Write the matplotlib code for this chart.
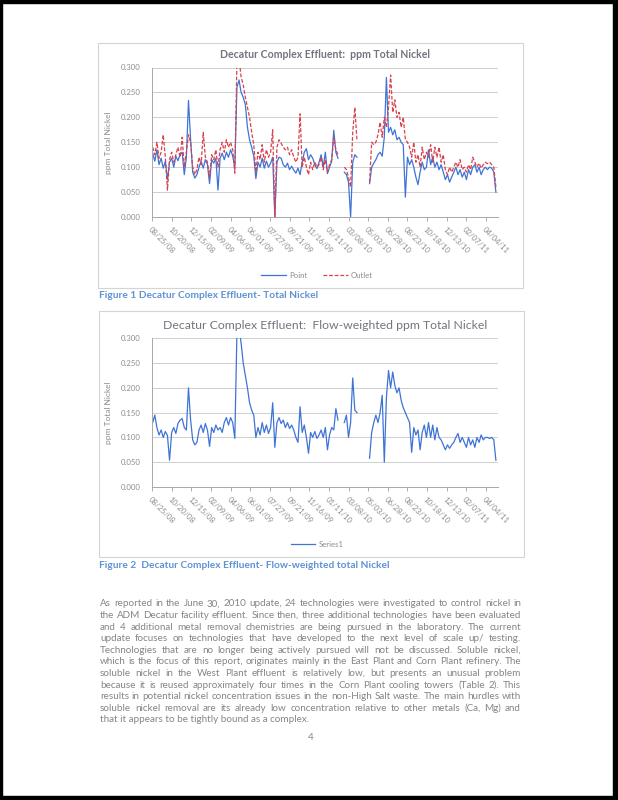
import matplotlib

matplotlib.use("Agg")
import matplotlib.dates as mdates
import matplotlib.pyplot as plt
import numpy as np
import pandas as pd
from matplotlib.patches import Rectangle

plt.rcParams["font.family"] = ["Lato", "DejaVu Sans"]

nan = np.nan

# samples every 6 days (ppm Ni)
START = "2008-08-27"
STEP = "6D"

point_ni = [
    0.128, 0.112, 0.135, 0.105, 0.118, 0.098, 0.112, 0.075, 0.11, 0.118,
    0.1, 0.122, 0.113, 0.125, 0.13, 0.085, 0.12, 0.234, 0.155, 0.09,
    0.078, 0.085, 0.1, 0.112, 0.098, 0.115, 0.105, 0.067, 0.115, 0.108,
    0.118, 0.054, 0.118, 0.128, 0.115, 0.13, 0.12, 0.135, 0.122, 0.1,
    0.26, 0.275, 0.25, 0.24, 0.225, 0.18, 0.155, 0.14, 0.122, 0.077,
    0.11, 0.1, 0.118, 0.098, 0.112, 0.1, 0.108, 0.12, 0.0, 0.11,
    0.12, 0.118, 0.105, 0.1, 0.108, 0.095, 0.102, 0.094, 0.088, 0.098,
    0.085, 0.11, 0.13, 0.137, 0.115, 0.125, 0.118, 0.105, 0.097, 0.11,
    0.125, 0.1, 0.13, 0.087, 0.1, 0.112, 0.174, 0.13, 0.118, nan,
    nan, 0.09, 0.085, 0.07, 0.0, 0.11, 0.125, 0.12, nan, nan,
    nan, nan, nan, 0.067, 0.1, 0.108, 0.115, 0.125, 0.13, 0.122,
    0.16, 0.28, 0.17, 0.18, 0.165, 0.175, 0.155, 0.16, 0.15, 0.145,
    0.04, 0.12, 0.105, 0.115, 0.1, 0.08, 0.065, 0.09, 0.11, 0.095,
    0.1, 0.135, 0.105, 0.12, 0.1, 0.11, 0.095, 0.105, 0.09, 0.075,
    0.085, 0.07, 0.08, 0.09, 0.1, 0.085, 0.095, 0.08, 0.09, 0.075,
    0.095, 0.085, 0.1, 0.105, 0.09, 0.1, 0.085, 0.095, 0.1, 0.095,
    0.1, 0.098, 0.09, 0.05,
]

outlet_ni = [
    0.14, 0.125, 0.15, 0.118, 0.13, 0.165, 0.12, 0.054, 0.115, 0.13,
    0.11, 0.125, 0.14, 0.12, 0.16, 0.1, 0.13, 0.165, 0.15, 0.1,
    0.085, 0.095, 0.12, 0.105, 0.17, 0.12, 0.11, 0.08, 0.125, 0.115,
    0.135, 0.1, 0.135, 0.15, 0.13, 0.155, 0.14, 0.15, 0.135, 0.088,
    0.31, 0.32, 0.28, 0.265, 0.24, 0.22, 0.2, 0.17, 0.145, 0.09,
    0.13, 0.115, 0.145, 0.11, 0.135, 0.12, 0.13, 0.175, 0.0, 0.14,
    0.155, 0.148, 0.14, 0.135, 0.14, 0.125, 0.135, 0.12, 0.11, 0.12,
    0.207, 0.1, 0.12, 0.1, 0.085, 0.11, 0.095, 0.11, 0.1, 0.105,
    0.12, 0.095, 0.115, 0.09, 0.105, 0.115, 0.16, 0.135, 0.125, nan,
    nan, 0.1, 0.095, 0.08, 0.06, 0.17, 0.22, 0.155, nan, nan,
    nan, nan, nan, 0.07, 0.15, 0.145, 0.15, 0.165, 0.19, 0.16,
    0.2, 0.18, 0.22, 0.285, 0.21, 0.235, 0.2, 0.21, 0.18, 0.2,
    0.155, 0.15, 0.14, 0.12, 0.15, 0.11, 0.125, 0.1, 0.14, 0.115,
    0.13, 0.12, 0.145, 0.11, 0.14, 0.12, 0.14, 0.11, 0.125, 0.095,
    0.085, 0.1, 0.09, 0.1, 0.11, 0.1, 0.115, 0.095, 0.1, 0.09,
    0.105, 0.095, 0.12, 0.11, 0.1, 0.108, 0.098, 0.105, 0.11, 0.107,
    0.11, 0.105, 0.1, 0.06,
]

flow_ni = [
    0.13, 0.145, 0.12, 0.105, 0.115, 0.1, 0.112, 0.104, 0.054, 0.11,
    0.12, 0.108, 0.128, 0.135, 0.138, 0.12, 0.115, 0.2, 0.135, 0.095,
    0.085, 0.09, 0.115, 0.125, 0.11, 0.128, 0.115, 0.082, 0.12, 0.11,
    0.125, 0.115, 0.12, 0.11, 0.13, 0.14, 0.125, 0.14, 0.13, 0.098,
    0.31, 0.32, 0.29, 0.25, 0.225, 0.2, 0.17, 0.155, 0.145, 0.1,
    0.12, 0.105, 0.13, 0.11, 0.125, 0.108, 0.12, 0.17, 0.08, 0.13,
    0.14, 0.128, 0.135, 0.12, 0.13, 0.118, 0.125, 0.115, 0.1, 0.09,
    0.162, 0.11, 0.125, 0.1, 0.068, 0.11, 0.1, 0.112, 0.098, 0.105,
    0.115, 0.1, 0.12, 0.075, 0.105, 0.12, 0.115, 0.158, 0.135, nan,
    nan, 0.13, 0.145, 0.1, 0.13, 0.22, 0.155, 0.15, nan, nan,
    nan, nan, nan, 0.058, 0.11, 0.13, 0.145, 0.13, 0.15, 0.185,
    0.05, 0.18, 0.235, 0.2, 0.232, 0.205, 0.19, 0.2, 0.175, 0.16,
    0.15, 0.14, 0.13, 0.07, 0.12, 0.105, 0.115, 0.075, 0.11, 0.125,
    0.1, 0.13, 0.1, 0.125, 0.095, 0.12, 0.1, 0.095, 0.085, 0.075,
    0.085, 0.078, 0.085, 0.09, 0.1, 0.108, 0.09, 0.1, 0.09, 0.08,
    0.1, 0.085, 0.095, 0.08, 0.1, 0.09, 0.105, 0.095, 0.1, 0.1,
    0.098, 0.1, 0.095, 0.054,
]

TICK_START, TICK_END, TICK_STEP = "2008-08-25", "2011-04-04", "56D"
X_MIN, X_MAX = "2008-08-25", "2011-05-08"
Y_TICKS = [0.0, 0.05, 0.10, 0.15, 0.20, 0.25, 0.30]

TITLE1 = "Decatur Complex Effluent:  ppm Total Nickel"
TITLE2 = "Decatur Complex Effluent:  Flow-weighted ppm Total Nickel"
YLABEL = "ppm Total Nickel"
LEGEND1 = ["Point", "Outlet"]
LEGEND2 = ["Series1"]
CAPTION1 = "Figure 1 Decatur Complex Effluent- Total Nickel"
CAPTION2 = "Figure 2  Decatur Complex Effluent- Flow-weighted total Nickel"

PARAGRAPH = [
    "As reported in the June 30, 2010 update, 24 technologies were investigated to control nickel in",
    "the ADM Decatur facility effluent. Since then, three additional technologies have been evaluated",
    "and 4 additional metal removal chemistries are being pursued in the laboratory.  The current",
    "update focuses on technologies that have developed to the next level of scale up/ testing.",
    "Technologies that are no longer being actively pursued will not be discussed. Soluble nickel,",
    "which is the focus of this report, originates mainly in the East Plant and Corn Plant refinery. The",
    "soluble nickel in the West Plant effluent is relatively low, but presents an unusual problem",
    "because it is reused approximately four times in the Corn Plant cooling towers (Table 2). This",
    "results in potential nickel concentration issues in the non-High Salt waste. The main hurdles with",
    "soluble nickel removal are its already low concentration relative to other metals (Ca, Mg) and",
    "that it appears to be tightly bound as a complex.",
]
PAGE_NO = "4"

BLUE = "#3f74d6"
RED = "#d8404c"
GRAY_TXT = "#8c8c8c"
GRID = "#cfcfcf"
W, H = 618, 800


def fx(px):
    return px / W


def fy(py):
    return 1 - py / H


def style_axis(ax, title, title_size, title_weight):
    ax.set_xlim(pd.Timestamp(X_MIN), pd.Timestamp(X_MAX))
    ax.set_ylim(0, 0.3)
    ax.set_yticks(Y_TICKS)
    ax.yaxis.set_major_formatter(plt.FuncFormatter(lambda v, _: f"{v:.3f}"))
    ticks = pd.date_range(TICK_START, TICK_END, freq=TICK_STEP)
    ax.set_xticks(ticks)
    ax.xaxis.set_major_formatter(mdates.DateFormatter("%m/%d/%y"))
    for lab in ax.get_xticklabels():
        lab.set_rotation(-45)
        lab.set_ha("left")
        lab.set_va("top")
        lab.set_rotation_mode("anchor")
    ax.tick_params(axis="both", labelsize=5.6, colors="#a0a0a0", labelcolor=GRAY_TXT,
                   length=3, width=0.6)
    ax.tick_params(axis="y", length=0, pad=8)
    ax.grid(axis="y", color=GRID, lw=0.7)
    ax.set_axisbelow(True)
    for s in ("top", "right"):
        ax.spines[s].set_visible(False)
    for s in ("left", "bottom"):
        ax.spines[s].set_color("#a8a8a8")
        ax.spines[s].set_linewidth(0.7)
    ax.set_ylabel(YLABEL, fontsize=6, color=GRAY_TXT)
    ax.yaxis.set_label_coords(-0.115, 0.5)
    ax.set_title(title, fontsize=title_size, fontweight=title_weight,
                 color="#74747f", pad=7)


def justified(fig, lines, x0, x1, y0, dy, **kw):
    r = fig.canvas.get_renderer()
    for k, line in enumerate(lines):
        y = y0 - k * dy
        words = line.split()
        if k == len(lines) - 1:
            fig.text(x0, y, line, **kw)
            continue
        texts = [fig.text(0, y, w, **kw) for w in words]
        widths = [t.get_window_extent(r).width / fig.bbox.width for t in texts]
        gap = (x1 - x0 - sum(widths)) / (len(words) - 1)
        x = x0
        for t, w in zip(texts, widths):
            t.set_x(x)
            x += w + gap


def main():
    dates = pd.date_range(START, periods=len(point_ni), freq=STEP)
    fig = plt.figure(figsize=(W / 100, H / 100), dpi=100)

    # page frame (scan border)
    for x, y, w, h in [(0, 0, 2, 800), (0, 0, 618, 3), (613, 0, 5, 800), (0, 796, 618, 4)]:
        fig.patches.append(Rectangle((fx(x), fy(y + h)), fx(w), h / H,
                                     transform=fig.transFigure, color="black", zorder=0))
    # chart boxes
    for x0, y0, x1, y1 in [(98, 43, 523, 288), (99, 311, 524, 557)]:
        fig.patches.append(Rectangle((fx(x0), fy(y1)), fx(x1 - x0), (y1 - y0) / H,
                                     transform=fig.transFigure, fill=False,
                                     ec="#d4d4d4", lw=0.8))

    ax1 = fig.add_axes([fx(152), fy(217), fx(346), 149.5 / H])
    ax1.plot(dates, point_ni, color=BLUE, lw=0.9, label=LEGEND1[0])
    ax1.plot(dates, outlet_ni, color=RED, lw=0.9, ls=(0, (3, 1.5)), label=LEGEND1[1])
    style_axis(ax1, TITLE1, 7.6, "bold")
    ax1.legend(loc="center", bbox_to_anchor=(0.477, -0.39), ncol=2, frameon=False,
               fontsize=5.6, labelcolor=GRAY_TXT, handlelength=3.2, columnspacing=2.0,
               handletextpad=0.4)

    ax2 = fig.add_axes([fx(152), fy(487), fx(346), 148.7 / H])
    ax2.plot(dates, flow_ni, color=BLUE, lw=0.9, label=LEGEND2[0])
    style_axis(ax2, TITLE2, 8.8, "normal")
    ax2.legend(loc="center", bbox_to_anchor=(0.477, -0.385), frameon=False,
               fontsize=5.6, labelcolor=GRAY_TXT, handlelength=3.2, handletextpad=0.4)

    cap = dict(fontsize=7.3, fontweight="bold", color="#5e92d4", va="center")
    fig.text(fx(99), fy(295), CAPTION1, **cap)
    fig.text(fx(99), fy(566), CAPTION2, **cap)

    justified(fig, PARAGRAPH, fx(100), fx(521), fy(604), 11.6 / H,
              fontsize=7.1, color="#858585", va="center")
    fig.text(fx(311), fy(737), PAGE_NO, fontsize=7.1, color="#858585",
             ha="center", va="center")

    fig.savefig("out.png", dpi=100)


if __name__ == "__main__":
    main()
